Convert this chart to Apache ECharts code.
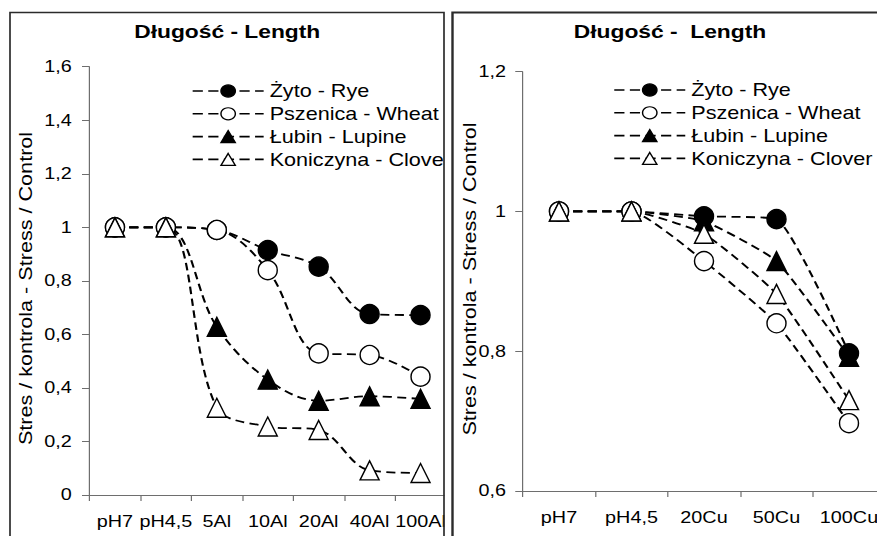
<!DOCTYPE html>
<html>
<head>
<meta charset="utf-8">
<script src="https://cdn.jsdelivr.net/npm/echarts@6/dist/echarts.min.js"></script>
<style>
  html, body { margin: 0; padding: 0; background: #fff; width: 877px; height: 536px; overflow: hidden; }
  /* the drawing is laid out 1.2x narrower and widened back, which gives the wide lettering;
     it runs a little past the right edge of the page, where the copper panel is cut off */
  #chart { width: 760px; height: 536px; transform: scaleX(1.2); transform-origin: 0 0; }
</style>
</head>
<body>
<div id="chart"></div>
<script>
// ---- data ----
const seriesNames = ['Żyto - Rye', 'Pszenica - Wheat', 'Łubin - Lupine', 'Koniczyna - Clover'];

// aluminium panel
const alCategories = ['pH7', 'pH4,5', '5Al', '10Al', '20Al', '40Al', '100Al'];
const alRye    = [1, 1, 0.99, 0.915, 0.853, 0.676, 0.672];
const alWheat  = [1, 1, 0.99, 0.84, 0.529, 0.523, 0.442];
const alLupine = [1, 1, 0.628, 0.431, 0.352, 0.369, 0.359];
const alClover = [1, 1, 0.326, 0.256, 0.243, 0.092, 0.082];
const alTickLabels = ['0', '0,2', '0,4', '0,6', '0,8', '1', '1,2', '1,4', '1,6'];

// copper panel
const cuCategories = ['pH7', 'pH4,5', '20Cu', '50Cu', '100Cu'];
const cuRye    = [1, 1, 0.993, 0.989, 0.797];
const cuWheat  = [1, 1, 0.929, 0.840, 0.697];
const cuLupine = [1, 1, 0.986, 0.929, 0.792];
const cuClover = [1, 1, 0.968, 0.882, 0.730];
const cuTickLabels = ['0,6', '0,8', '1', '1,2'];

const titleLeft = 'Długość - Length';
const titleRight = 'Długość -  Length';
const yName = 'Stres / kontrola - Stress / Control';

// ---- layout helpers ----
const STRETCH = 1.2;
const sx = v => v / STRETCH;          // page x -> chart x
const FONT = "'Liberation Sans', Arial, sans-serif";

const markerStyles = [
  { symbol: 'circle',   fill: '#000' },
  { symbol: 'circle',   fill: '#fff' },
  { symbol: 'triangle', fill: '#000' },
  { symbol: 'triangle', fill: '#fff' }
];

function makeSeries(values, idx, gridIdx, smooth) {
  const m = markerStyles[idx];
  return {
    name: seriesNames[idx],
    type: 'line',
    xAxisIndex: gridIdx,
    yAxisIndex: gridIdx,
    data: values,
    smooth,
    symbol: m.symbol,
    symbolSize: [sx(19), 19],
    itemStyle: { color: m.fill, borderColor: '#000', borderWidth: 1.3 },
    lineStyle: { color: '#000', width: 1.8, type: [7.5, 4.5] },
    emphasis: { disabled: true },
    animation: false
  };
}

const axisGray = '#6e6e6e';

function catAxis(data, gridIndex) {
  return {
    type: 'category', gridIndex, data, boundaryGap: true,
    axisLine: { show: true, lineStyle: { color: axisGray, width: 1 } },
    axisTick: { show: true, length: 6, lineStyle: { color: axisGray } },
    axisLabel: { color: '#000', fontSize: 16.5, fontFamily: FONT, margin: 18, interval: 0 },
    splitLine: { show: false }
  };
}

function valAxis(gridIndex, min, max, step, labels, margin) {
  return {
    type: 'value', gridIndex, min, max, interval: step,
    axisLine: { show: true, lineStyle: { color: axisGray, width: 1 } },
    axisTick: { show: true, length: sx(7.5), lineStyle: { color: axisGray } },
    axisLabel: {
      color: '#000', fontSize: 16.5, fontFamily: FONT, margin,
      formatter: v => labels[Math.round((v - min) / step)]
    },
    splitLine: { show: false }
  };
}

function legendAt(leftPx, top) {
  return {
    data: seriesNames,
    orient: 'vertical',
    left: sx(leftPx) - 5,
    top,
    itemWidth: sx(71),
    itemHeight: 15,
    itemGap: 2.8,
    selectedMode: false,
    itemStyle: { borderWidth: 1.2 },
    lineStyle: { type: [8.5, 4.5], width: 1.6 },
    textStyle: { color: '#000', fontSize: 18, lineHeight: 20, fontFamily: FONT }
  };
}

function titleText(text, xPx) {
  return {
    type: 'text', x: sx(xPx), y: 31.5, z: 120,
    style: { text, fill: '#000', fontSize: 19, fontWeight: 'bold', fontFamily: FONT,
             align: 'center', verticalAlign: 'middle' }
  };
}

function yNameText(xPx, y) {
  return {
    type: 'text', x: sx(xPx), y, rotation: Math.PI / 2,
    scaleX: STRETCH, scaleY: 1 / STRETCH, z: 120,
    style: { text: yName, fill: '#000', fontSize: 18, fontFamily: FONT,
             align: 'center', verticalAlign: 'middle' }
  };
}

const option = {
  backgroundColor: '#fff',
  animation: false,
  grid: [
    { left: sx(89.5), width: sx(446 - 89.5), top: 66.7, height: 495 - 66.7 },
    { left: sx(522.75), width: sx(885.25 - 522.75), top: 71.7, height: 491 - 71.7 }
  ],
  xAxis: [catAxis(alCategories, 0), catAxis(cuCategories, 1)],
  yAxis: [
    valAxis(0, 0, 1.6, 0.2, alTickLabels, sx(17.8)),
    valAxis(1, 0.6, 1.2, 0.2, cuTickLabels, sx(16.8))
  ],
  legend: [legendAt(191.7, 76), legendAt(613.3, 75)],
  series: [
    makeSeries(alRye, 0, 0, 0.35), makeSeries(alWheat, 1, 0, 0.35),
    makeSeries(alLupine, 2, 0, 0.35), makeSeries(alClover, 3, 0, 0.35),
    makeSeries(cuRye, 0, 1, 0.15), makeSeries(cuWheat, 1, 1, 0.15),
    makeSeries(cuLupine, 2, 1, 0.15), makeSeries(cuClover, 3, 1, 0.15)
  ],
  graphic: [
    // gap between the two panels hides what runs past the left frame
    { type: 'rect', z: 110, shape: { x: sx(444.5), y: 0, width: sx(7.5), height: 536 },
      style: { fill: '#fff' } },
    // panel frames
    { type: 'rect', z: 115, shape: { x: sx(10), y: 12.5, width: sx(434), height: 600 },
      style: { fill: 'none', stroke: '#2b2b2b', lineWidth: 1.4 } },
    { type: 'rect', z: 115, shape: { x: sx(452.5), y: 12.5, width: sx(500), height: 600 },
      style: { fill: 'none', stroke: '#2b2b2b', lineWidth: 2 } },
    titleText(titleLeft, 227.2),
    titleText(titleRight, 670),
    yNameText(25.8, 288.5),
    yNameText(469.2, 279)
  ]
};

const chart = echarts.init(document.getElementById('chart'), null, { renderer: 'svg' });
chart.setOption(option);
</script>
</body>
</html>
